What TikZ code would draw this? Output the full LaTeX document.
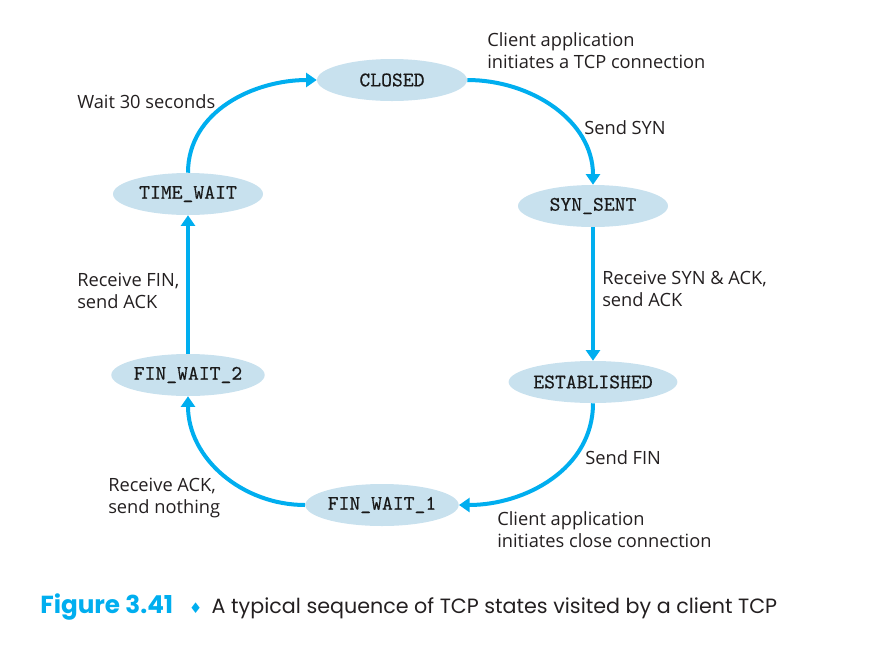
\documentclass[tikz,border=0pt]{standalone}
\usepackage{fontspec}
\setsansfont{Open Sans}
\newfontfamily\capfont{Poppins}
\newfontfamily\symfont{DejaVu Sans}
\newfontfamily\statefont{lmmono10-regular.otf}[FakeBold=0.4]
\usetikzlibrary{arrows.meta,shapes.geometric}
\definecolor{arrowblue}{HTML}{00AEEF}
\definecolor{statefill}{HTML}{C8E1EE}
\definecolor{captext}{HTML}{231F20}
\tikzset{
  state/.style={ellipse, fill=statefill, minimum width=112.5pt, minimum height=31.5pt, inner sep=0pt,
    font=\statefont\fontsize{15.5}{17}\selectfont, text=black!90},
  lbl/.style={anchor=west, inner sep=0pt, align=left, font=\sffamily\fontsize{13.7}{16.5}\selectfont, text=captext},
  flow/.style={draw=arrowblue, line width=3pt, -{Triangle[width=10.5pt,length=8pt]}},
}
\begin{document}
\begin{tikzpicture}[x=0.75pt,y=-0.75pt]
\useasboundingbox (0,0) rectangle (869,658);
\node[state] (closed) at (392,80) {CLOSED};
\node[state] (syn) at (593,206) {SYN\_SENT};
\node[state] (est) at (593,382) {ESTABLISHED};
\node[state] (fw1) at (382,505) {FIN\_WAIT\_1};
\node[state] (fw2) at (188,375) {FIN\_WAIT\_2};
\node[state] (tw) at (188,194) {TIME\_WAIT};

\draw[flow] (tw.north) to[out=90,in=180] (closed.west);
\draw[flow] (closed.east) to[out=0,in=90] (syn.north);
\draw[flow] (syn.south) -- (est.north);
\draw[flow] (est.south) to[out=-90,in=0] (fw1.east);
\draw[flow] (fw1.west) to[out=180,in=-90] (fw2.south);
\draw[flow] (fw2.north) -- (tw.south);

\node[lbl] (l1) at (487,51) {Client application\\initiates a TCP connection};
\node[lbl] (l2) at (584,128) {Send SYN};
\node[lbl] (l3) at (77,102) {Wait 30 seconds};
\node[lbl] (l4) at (602,289) {Receive SYN \& ACK,\\send ACK};
\node[lbl] (l5) at (77,291) {Receive FIN,\\send ACK};
\node[lbl] (l6) at (585,458) {Send FIN};
\node[lbl] (l7) at (108,498) {Receive ACK,\\send nothing};
\node[lbl] (l8) at (497,530) {Client application\\initiates close connection};

\node[anchor=west, inner sep=0pt, text=captext] (cap) at (40,607)
  {\capfont\textcolor{arrowblue}{\fontsize{18.5}{20}\selectfont\bfseries Figure 3.41}\hspace{12pt}{\symfont\fontsize{11}{14}\selectfont\textcolor{arrowblue}{♦}}\hspace{7pt}{\fontsize{15.5}{20}\selectfont A typical sequence of TCP states visited by a client TCP}};
\end{tikzpicture}
\end{document}
